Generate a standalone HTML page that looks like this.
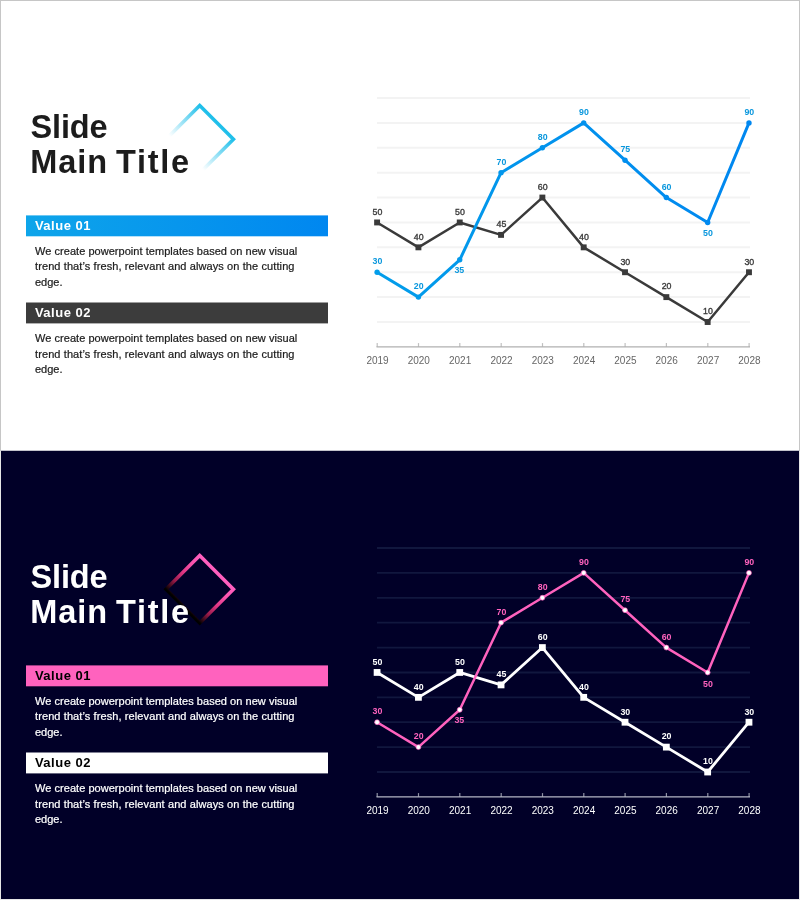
<!DOCTYPE html>
<html lang="en"><head><meta charset="utf-8"><title>Slide Main Title</title>
<style>
html,body{margin:0;padding:0}
body{width:800px;height:900px;position:relative;overflow:hidden;background:#e9e9e9;font-family:"Liberation Sans",sans-serif}
.slide{position:absolute;left:0;width:800px;height:450px;overflow:hidden}
.light{background:#fff;color:#1e1e1e}
.dark{background:#010028;color:#fff}
.frame{position:absolute;pointer-events:none}
.gfx{position:absolute;left:0;top:0}
.title{position:absolute;left:0;top:0;margin:0;font-weight:bold;font-size:32.5px;line-height:36px;white-space:nowrap}
.title span{position:absolute}
.t1{left:30.6px;top:109px;letter-spacing:-0.2px}
.t2{left:30.3px;top:143.9px;letter-spacing:0.9px}
.t3{left:116px;top:143.9px;letter-spacing:1.7px}
.light .title{color:#1c1c1c}
.bar{position:absolute;left:26px;width:302px;height:20.7px}
.bar span{position:absolute;left:8.9px;top:0.5px;line-height:20.7px;font-weight:bold;font-size:13px;letter-spacing:0.5px}
.b1{top:215.6px}
.b2{top:302.6px}
.light .b1{color:#fff}
.light .b2{color:#fff}
.dark .b1{color:#000}
.dark .b2{color:#000}
p{position:absolute;left:35px;margin:0;font-size:11px;line-height:15.7px;white-space:nowrap;-webkit-text-stroke:0.22px currentColor}
p span{display:block}
.l1{letter-spacing:0.04px}
.l2{letter-spacing:0.1px}
.light p{color:#1c1c1c}
.p1{top:243.6px}
.p2{top:330.8px}
</style></head>
<body>
<div class="slide light" style="top:0px">
<svg class="gfx" width="800" height="450" viewBox="0 0 800 450">
<defs><linearGradient id="g1" gradientUnits="userSpaceOnUse" x1="216.55" y1="122.35" x2="182.85" y2="156.05"><stop offset="0" stop-color="#1fbfea"/><stop offset="0.9" stop-color="#1fbfea" stop-opacity="0"/></linearGradient></defs>
<polygon points="199.70,105.50 233.40,139.20 199.70,172.90 166.00,139.20" fill="none" stroke="url(#g1)" stroke-width="3.6" stroke-linejoin="miter"/>
<defs><linearGradient id="bg0" x1="0" y1="0" x2="1" y2="0"><stop offset="0" stop-color="#0ea5ea"/><stop offset="1" stop-color="#0087f0"/></linearGradient></defs><rect x="26" y="215.4" width="302" height="20.9" fill="url(#bg0)"/><rect x="26" y="302.5" width="302" height="20.9" fill="#3c3c3c"/>
<defs><linearGradient id="lg0" gradientUnits="userSpaceOnUse" x1="377" y1="0" x2="749" y2="0"><stop offset="0" stop-color="#029dea"/><stop offset="1" stop-color="#0087f0"/></linearGradient></defs>
<line x1="377" y1="322.0" x2="750" y2="322.0" stroke="#f3f3f3" stroke-width="2"/>
<line x1="377" y1="297.1" x2="750" y2="297.1" stroke="#f3f3f3" stroke-width="2"/>
<line x1="377" y1="272.2" x2="750" y2="272.2" stroke="#f3f3f3" stroke-width="2"/>
<line x1="377" y1="247.3" x2="750" y2="247.3" stroke="#f3f3f3" stroke-width="2"/>
<line x1="377" y1="222.4" x2="750" y2="222.4" stroke="#f3f3f3" stroke-width="2"/>
<line x1="377" y1="197.6" x2="750" y2="197.6" stroke="#f3f3f3" stroke-width="2"/>
<line x1="377" y1="172.7" x2="750" y2="172.7" stroke="#f3f3f3" stroke-width="2"/>
<line x1="377" y1="147.8" x2="750" y2="147.8" stroke="#f3f3f3" stroke-width="2"/>
<line x1="377" y1="122.9" x2="750" y2="122.9" stroke="#f3f3f3" stroke-width="2"/>
<line x1="377" y1="98.0" x2="750" y2="98.0" stroke="#f3f3f3" stroke-width="2"/>
<line x1="376.5" y1="346.9" x2="750" y2="346.9" stroke="#b0b0b0" stroke-width="1.3"/>
<line x1="377.2" y1="343.1" x2="377.2" y2="346.9" stroke="#b0b0b0" stroke-width="1.2" stroke-opacity="0.8"/>
<line x1="418.5" y1="343.1" x2="418.5" y2="346.9" stroke="#b0b0b0" stroke-width="1.2" stroke-opacity="0.8"/>
<line x1="459.8" y1="343.1" x2="459.8" y2="346.9" stroke="#b0b0b0" stroke-width="1.2" stroke-opacity="0.8"/>
<line x1="501.2" y1="343.1" x2="501.2" y2="346.9" stroke="#b0b0b0" stroke-width="1.2" stroke-opacity="0.8"/>
<line x1="542.5" y1="343.1" x2="542.5" y2="346.9" stroke="#b0b0b0" stroke-width="1.2" stroke-opacity="0.8"/>
<line x1="583.8" y1="343.1" x2="583.8" y2="346.9" stroke="#b0b0b0" stroke-width="1.2" stroke-opacity="0.8"/>
<line x1="625.1" y1="343.1" x2="625.1" y2="346.9" stroke="#b0b0b0" stroke-width="1.2" stroke-opacity="0.8"/>
<line x1="666.4" y1="343.1" x2="666.4" y2="346.9" stroke="#b0b0b0" stroke-width="1.2" stroke-opacity="0.8"/>
<line x1="707.8" y1="343.1" x2="707.8" y2="346.9" stroke="#b0b0b0" stroke-width="1.2" stroke-opacity="0.8"/>
<line x1="749.1" y1="343.1" x2="749.1" y2="346.9" stroke="#b0b0b0" stroke-width="1.2" stroke-opacity="0.8"/>
<polyline points="377.10,222.45 418.42,247.34 459.74,222.45 501.06,234.89 542.38,197.56 583.70,247.34 625.02,272.23 666.34,297.12 707.66,322.01 748.98,272.23" fill="none" stroke="#3a3a3a" stroke-width="2.5" stroke-linejoin="round"/>
<rect x="374.15" y="219.50" width="5.9" height="5.9" fill="#3a3a3a"/>
<rect x="415.47" y="244.39" width="5.9" height="5.9" fill="#3a3a3a"/>
<rect x="456.79" y="219.50" width="5.9" height="5.9" fill="#3a3a3a"/>
<rect x="498.11" y="231.94" width="5.9" height="5.9" fill="#3a3a3a"/>
<rect x="539.43" y="194.61" width="5.9" height="5.9" fill="#3a3a3a"/>
<rect x="580.75" y="244.39" width="5.9" height="5.9" fill="#3a3a3a"/>
<rect x="622.07" y="269.28" width="5.9" height="5.9" fill="#3a3a3a"/>
<rect x="663.39" y="294.17" width="5.9" height="5.9" fill="#3a3a3a"/>
<rect x="704.71" y="319.06" width="5.9" height="5.9" fill="#3a3a3a"/>
<rect x="746.03" y="269.28" width="5.9" height="5.9" fill="#3a3a3a"/>
<polyline points="377.10,272.23 418.42,297.12 459.74,259.78 501.06,172.67 542.38,147.78 583.70,122.89 625.02,160.22 666.34,197.56 707.66,222.45 748.98,122.89" fill="none" stroke="url(#lg0)" stroke-width="3" stroke-linejoin="round" stroke-linecap="round"/>
<circle cx="377.10" cy="272.23" r="2.7" fill="url(#lg0)" stroke="url(#lg0)" stroke-width="0"/>
<circle cx="418.42" cy="297.12" r="2.7" fill="url(#lg0)" stroke="url(#lg0)" stroke-width="0"/>
<circle cx="459.74" cy="259.78" r="2.7" fill="url(#lg0)" stroke="url(#lg0)" stroke-width="0"/>
<circle cx="501.06" cy="172.67" r="2.7" fill="url(#lg0)" stroke="url(#lg0)" stroke-width="0"/>
<circle cx="542.38" cy="147.78" r="2.7" fill="url(#lg0)" stroke="url(#lg0)" stroke-width="0"/>
<circle cx="583.70" cy="122.89" r="2.7" fill="url(#lg0)" stroke="url(#lg0)" stroke-width="0"/>
<circle cx="625.02" cy="160.22" r="2.7" fill="url(#lg0)" stroke="url(#lg0)" stroke-width="0"/>
<circle cx="666.34" cy="197.56" r="2.7" fill="url(#lg0)" stroke="url(#lg0)" stroke-width="0"/>
<circle cx="707.66" cy="222.45" r="2.7" fill="url(#lg0)" stroke="url(#lg0)" stroke-width="0"/>
<circle cx="748.98" cy="122.89" r="2.7" fill="url(#lg0)" stroke="url(#lg0)" stroke-width="0"/>
<g font-family="Liberation Sans, sans-serif" font-size="8.8" font-weight="bold" text-anchor="middle">
<text x="377.4" y="214.8" fill="#3a3a3a" font-weight="normal" stroke="#3a3a3a" stroke-width="0.35">50</text>
<text x="418.7" y="239.6" fill="#3a3a3a" font-weight="normal" stroke="#3a3a3a" stroke-width="0.35">40</text>
<text x="460.0" y="214.8" fill="#3a3a3a" font-weight="normal" stroke="#3a3a3a" stroke-width="0.35">50</text>
<text x="501.4" y="227.2" fill="#3a3a3a" font-weight="normal" stroke="#3a3a3a" stroke-width="0.35">45</text>
<text x="542.7" y="189.9" fill="#3a3a3a" font-weight="normal" stroke="#3a3a3a" stroke-width="0.35">60</text>
<text x="584.0" y="239.6" fill="#3a3a3a" font-weight="normal" stroke="#3a3a3a" stroke-width="0.35">40</text>
<text x="625.3" y="264.5" fill="#3a3a3a" font-weight="normal" stroke="#3a3a3a" stroke-width="0.35">30</text>
<text x="666.6" y="289.4" fill="#3a3a3a" font-weight="normal" stroke="#3a3a3a" stroke-width="0.35">20</text>
<text x="708.0" y="314.3" fill="#3a3a3a" font-weight="normal" stroke="#3a3a3a" stroke-width="0.35">10</text>
<text x="749.3" y="264.5" fill="#3a3a3a" font-weight="normal" stroke="#3a3a3a" stroke-width="0.35">30</text>
<text x="377.4" y="264.4" fill="#0a97dd">30</text>
<text x="418.7" y="289.3" fill="#0a97dd">20</text>
<text x="459.3" y="273.1" fill="#0a97dd">35</text>
<text x="501.4" y="164.9" fill="#0a97dd">70</text>
<text x="542.7" y="140.0" fill="#0a97dd">80</text>
<text x="584.0" y="115.1" fill="#0a97dd">90</text>
<text x="625.3" y="152.4" fill="#0a97dd">75</text>
<text x="666.6" y="189.8" fill="#0a97dd">60</text>
<text x="708.0" y="236.4" fill="#0a97dd">50</text>
<text x="749.3" y="115.1" fill="#0a97dd">90</text>
</g>
<g font-family="Liberation Sans, sans-serif" font-size="10" text-anchor="middle" fill="#666666">
<text x="377.5" y="363.8">2019</text>
<text x="418.8" y="363.8">2020</text>
<text x="460.1" y="363.8">2021</text>
<text x="501.5" y="363.8">2022</text>
<text x="542.8" y="363.8">2023</text>
<text x="584.1" y="363.8">2024</text>
<text x="625.4" y="363.8">2025</text>
<text x="666.7" y="363.8">2026</text>
<text x="708.1" y="363.8">2027</text>
<text x="749.4" y="363.8">2028</text>
</g>
</svg>
<h1 class="title"><span class="t1">Slide</span> <span class="t2">Main</span> <span class="t3">Title</span></h1>
<div class="bar b1"><span>Value 01</span></div>
<p class="p1"><span class="l1">We create powerpoint templates based on new visual</span> <span class="l2">trend that’s fresh, relevant and always on the cutting</span> <span class="l3">edge.</span></p>
<div class="bar b2"><span>Value 02</span></div>
<p class="p2"><span class="l1">We create powerpoint templates based on new visual</span> <span class="l2">trend that’s fresh, relevant and always on the cutting</span> <span class="l3">edge.</span></p>
</div>
<div class="slide dark" style="top:450px">
<svg class="gfx" width="800" height="450" viewBox="0 450 800 450">
<defs><linearGradient id="g2" gradientUnits="userSpaceOnUse" x1="216.55" y1="572.35" x2="182.85" y2="606.05"><stop offset="0" stop-color="#ff5fbf"/><stop offset="0.25" stop-color="#f852ab"/><stop offset="0.5" stop-color="#de3683"/><stop offset="0.75" stop-color="#961a48"/><stop offset="0.9" stop-color="#3c0a1a"/><stop offset="1" stop-color="#000000"/></linearGradient></defs>
<polygon points="199.70,555.50 233.40,589.20 199.70,622.90 166.00,589.20" fill="none" stroke="url(#g2)" stroke-width="3.6" stroke-linejoin="miter"/>
<rect x="26" y="665.4" width="302" height="20.9" fill="#ff62be"/><rect x="26" y="752.5" width="302" height="20.9" fill="#ffffff"/>
<line x1="377" y1="772.0" x2="750" y2="772.0" stroke="#11173e" stroke-width="1.8"/>
<line x1="377" y1="747.1" x2="750" y2="747.1" stroke="#11173e" stroke-width="1.8"/>
<line x1="377" y1="722.2" x2="750" y2="722.2" stroke="#11173e" stroke-width="1.8"/>
<line x1="377" y1="697.3" x2="750" y2="697.3" stroke="#11173e" stroke-width="1.8"/>
<line x1="377" y1="672.5" x2="750" y2="672.5" stroke="#11173e" stroke-width="1.8"/>
<line x1="377" y1="647.6" x2="750" y2="647.6" stroke="#11173e" stroke-width="1.8"/>
<line x1="377" y1="622.7" x2="750" y2="622.7" stroke="#11173e" stroke-width="1.8"/>
<line x1="377" y1="597.8" x2="750" y2="597.8" stroke="#11173e" stroke-width="1.8"/>
<line x1="377" y1="572.9" x2="750" y2="572.9" stroke="#11173e" stroke-width="1.8"/>
<line x1="377" y1="548.0" x2="750" y2="548.0" stroke="#11173e" stroke-width="1.8"/>
<line x1="376.5" y1="796.9" x2="750" y2="796.9" stroke="#b4b6c4" stroke-width="1.3"/>
<line x1="377.2" y1="793.1" x2="377.2" y2="796.9" stroke="#b4b6c4" stroke-width="1.2" stroke-opacity="0.8"/>
<line x1="418.5" y1="793.1" x2="418.5" y2="796.9" stroke="#b4b6c4" stroke-width="1.2" stroke-opacity="0.8"/>
<line x1="459.8" y1="793.1" x2="459.8" y2="796.9" stroke="#b4b6c4" stroke-width="1.2" stroke-opacity="0.8"/>
<line x1="501.2" y1="793.1" x2="501.2" y2="796.9" stroke="#b4b6c4" stroke-width="1.2" stroke-opacity="0.8"/>
<line x1="542.5" y1="793.1" x2="542.5" y2="796.9" stroke="#b4b6c4" stroke-width="1.2" stroke-opacity="0.8"/>
<line x1="583.8" y1="793.1" x2="583.8" y2="796.9" stroke="#b4b6c4" stroke-width="1.2" stroke-opacity="0.8"/>
<line x1="625.1" y1="793.1" x2="625.1" y2="796.9" stroke="#b4b6c4" stroke-width="1.2" stroke-opacity="0.8"/>
<line x1="666.4" y1="793.1" x2="666.4" y2="796.9" stroke="#b4b6c4" stroke-width="1.2" stroke-opacity="0.8"/>
<line x1="707.8" y1="793.1" x2="707.8" y2="796.9" stroke="#b4b6c4" stroke-width="1.2" stroke-opacity="0.8"/>
<line x1="749.1" y1="793.1" x2="749.1" y2="796.9" stroke="#b4b6c4" stroke-width="1.2" stroke-opacity="0.8"/>
<polyline points="377.10,672.45 418.42,697.34 459.74,672.45 501.06,684.89 542.38,647.56 583.70,697.34 625.02,722.23 666.34,747.12 707.66,772.01 748.98,722.23" fill="none" stroke="#ffffff" stroke-width="2.8" stroke-linejoin="round"/>
<rect x="373.70" y="669.05" width="6.8" height="6.8" fill="#ffffff"/>
<rect x="415.02" y="693.94" width="6.8" height="6.8" fill="#ffffff"/>
<rect x="456.34" y="669.05" width="6.8" height="6.8" fill="#ffffff"/>
<rect x="497.66" y="681.50" width="6.8" height="6.8" fill="#ffffff"/>
<rect x="538.98" y="644.16" width="6.8" height="6.8" fill="#ffffff"/>
<rect x="580.30" y="693.94" width="6.8" height="6.8" fill="#ffffff"/>
<rect x="621.62" y="718.83" width="6.8" height="6.8" fill="#ffffff"/>
<rect x="662.94" y="743.72" width="6.8" height="6.8" fill="#ffffff"/>
<rect x="704.26" y="768.61" width="6.8" height="6.8" fill="#ffffff"/>
<rect x="745.58" y="718.83" width="6.8" height="6.8" fill="#ffffff"/>
<polyline points="377.10,722.23 418.42,747.12 459.74,709.78 501.06,622.67 542.38,597.78 583.70,572.89 625.02,610.23 666.34,647.56 707.66,672.45 748.98,572.89" fill="none" stroke="#ff62be" stroke-width="2.5" stroke-linejoin="round" stroke-linecap="round"/>
<circle cx="377.10" cy="722.23" r="2.45" fill="#ffffff" stroke="#ff62be" stroke-width="0.7"/>
<circle cx="418.42" cy="747.12" r="2.45" fill="#ffffff" stroke="#ff62be" stroke-width="0.7"/>
<circle cx="459.74" cy="709.78" r="2.45" fill="#ffffff" stroke="#ff62be" stroke-width="0.7"/>
<circle cx="501.06" cy="622.67" r="2.45" fill="#ffffff" stroke="#ff62be" stroke-width="0.7"/>
<circle cx="542.38" cy="597.78" r="2.45" fill="#ffffff" stroke="#ff62be" stroke-width="0.7"/>
<circle cx="583.70" cy="572.89" r="2.45" fill="#ffffff" stroke="#ff62be" stroke-width="0.7"/>
<circle cx="625.02" cy="610.23" r="2.45" fill="#ffffff" stroke="#ff62be" stroke-width="0.7"/>
<circle cx="666.34" cy="647.56" r="2.45" fill="#ffffff" stroke="#ff62be" stroke-width="0.7"/>
<circle cx="707.66" cy="672.45" r="2.45" fill="#ffffff" stroke="#ff62be" stroke-width="0.7"/>
<circle cx="748.98" cy="572.89" r="2.45" fill="#ffffff" stroke="#ff62be" stroke-width="0.7"/>
<g font-family="Liberation Sans, sans-serif" font-size="8.8" font-weight="bold" text-anchor="middle">
<text x="377.4" y="664.8" fill="#ffffff" font-weight="bold" stroke="#ffffff" stroke-width="0">50</text>
<text x="418.7" y="689.6" fill="#ffffff" font-weight="bold" stroke="#ffffff" stroke-width="0">40</text>
<text x="460.0" y="664.8" fill="#ffffff" font-weight="bold" stroke="#ffffff" stroke-width="0">50</text>
<text x="501.4" y="677.2" fill="#ffffff" font-weight="bold" stroke="#ffffff" stroke-width="0">45</text>
<text x="542.7" y="639.9" fill="#ffffff" font-weight="bold" stroke="#ffffff" stroke-width="0">60</text>
<text x="584.0" y="689.6" fill="#ffffff" font-weight="bold" stroke="#ffffff" stroke-width="0">40</text>
<text x="625.3" y="714.5" fill="#ffffff" font-weight="bold" stroke="#ffffff" stroke-width="0">30</text>
<text x="666.6" y="739.4" fill="#ffffff" font-weight="bold" stroke="#ffffff" stroke-width="0">20</text>
<text x="708.0" y="764.3" fill="#ffffff" font-weight="bold" stroke="#ffffff" stroke-width="0">10</text>
<text x="749.3" y="714.5" fill="#ffffff" font-weight="bold" stroke="#ffffff" stroke-width="0">30</text>
<text x="377.4" y="714.4" fill="#ff62be">30</text>
<text x="418.7" y="739.3" fill="#ff62be">20</text>
<text x="459.3" y="723.1" fill="#ff62be">35</text>
<text x="501.4" y="614.9" fill="#ff62be">70</text>
<text x="542.7" y="590.0" fill="#ff62be">80</text>
<text x="584.0" y="565.1" fill="#ff62be">90</text>
<text x="625.3" y="602.4" fill="#ff62be">75</text>
<text x="666.6" y="639.8" fill="#ff62be">60</text>
<text x="708.0" y="686.5" fill="#ff62be">50</text>
<text x="749.3" y="565.1" fill="#ff62be">90</text>
</g>
<g font-family="Liberation Sans, sans-serif" font-size="10" text-anchor="middle" fill="#ffffff">
<text x="377.5" y="813.8">2019</text>
<text x="418.8" y="813.8">2020</text>
<text x="460.1" y="813.8">2021</text>
<text x="501.5" y="813.8">2022</text>
<text x="542.8" y="813.8">2023</text>
<text x="584.1" y="813.8">2024</text>
<text x="625.4" y="813.8">2025</text>
<text x="666.7" y="813.8">2026</text>
<text x="708.1" y="813.8">2027</text>
<text x="749.4" y="813.8">2028</text>
</g>
</svg>
<h1 class="title"><span class="t1">Slide</span> <span class="t2">Main</span> <span class="t3">Title</span></h1>
<div class="bar b1"><span>Value 01</span></div>
<p class="p1"><span class="l1">We create powerpoint templates based on new visual</span> <span class="l2">trend that’s fresh, relevant and always on the cutting</span> <span class="l3">edge.</span></p>
<div class="bar b2"><span>Value 02</span></div>
<p class="p2"><span class="l1">We create powerpoint templates based on new visual</span> <span class="l2">trend that’s fresh, relevant and always on the cutting</span> <span class="l3">edge.</span></p>
</div>
<div class="frame" style="left:0;top:450px;width:800px;height:1px;background:#c2c2cb"></div>
<div class="frame" style="left:0;top:0;width:800px;height:1px;background:#c6c6c6"></div>
<div class="frame" style="left:0;top:0;width:1px;height:451px;background:#c6c6c6"></div>
<div class="frame" style="left:799px;top:0;width:1px;height:451px;background:#c6c6c6"></div>
<div class="frame" style="left:0;top:451px;width:1px;height:449px;background:#e6e6e6"></div>
<div class="frame" style="left:799px;top:451px;width:1px;height:449px;background:#e6e6e6"></div>
<div class="frame" style="left:0;top:899px;width:800px;height:1px;background:#e6e6e6"></div>
</body></html>
